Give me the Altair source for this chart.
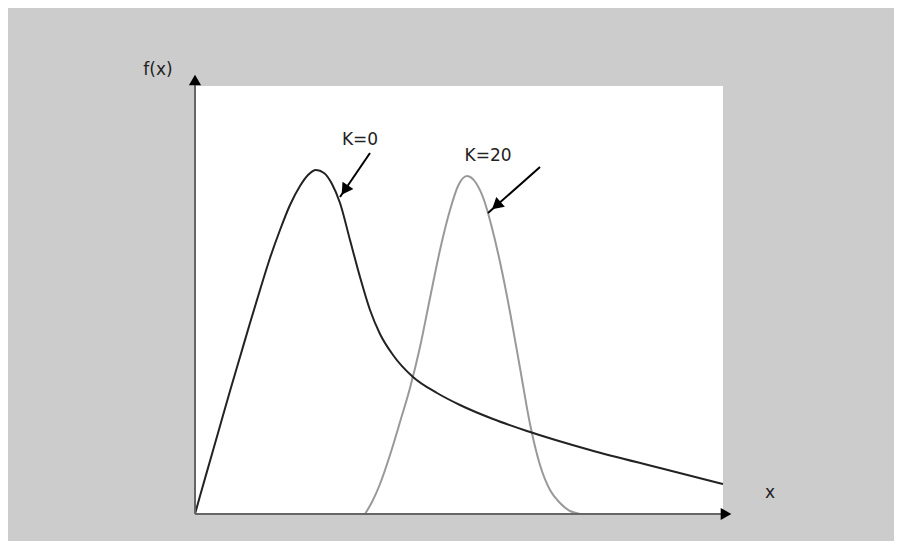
import altair as alt
import pandas as pd

# --- values (units: x 0..528, y 0..428 across the plot area) ---
k0_x = [0, 5, 15, 25, 35, 45, 55, 65, 75, 85, 95, 105, 113, 121, 129, 137, 145,
        155, 165, 175, 185, 198, 218, 242, 265, 298, 332, 395, 465, 528]
k0_y = [0, 18, 53, 88, 123, 157, 191, 224, 256, 284, 309, 328, 339, 344, 341, 330, 311,
        274, 237, 204, 180, 159, 137, 121, 109, 95, 83, 64, 46, 30]

k20_x = [170, 177, 185, 195, 205, 215, 225, 235, 245, 255, 263, 272, 281, 289, 297,
         305, 315, 325, 335, 345, 355, 365, 375, 385]
k20_y = [0, 12, 30, 59, 92, 126, 167, 216, 264, 304, 328, 338, 331, 314, 286,
         252, 202, 146, 90, 49, 24, 11, 3, 0]

labels = ["K=0", "K=20"]
label_x = [165, 293]
label_y = [374, 358]

# annotation arrows: start and tip
arrow_x1 = [175, 345]
arrow_y1 = [361, 347]
arrow_x2 = [145, 293]
arrow_y2 = [317, 301]
arrow_angle = [214, 229]

axis_titles = ["f(x)", "x"]
axis_title_x = [-37, 575]
axis_title_y = [444, 21]

XMAX, YMAX = 528, 428
W, H = 528, 428
xs = alt.Scale(domain=[0, XMAX], nice=False, zero=False)
ys = alt.Scale(domain=[0, YMAX], nice=False, zero=False)

df0 = pd.DataFrame({"x": k0_x, "y": k0_y})
df20 = pd.DataFrame({"x": k20_x, "y": k20_y})
dlab = pd.DataFrame({"x": label_x, "y": label_y, "t": labels})
darr = pd.DataFrame({"x": arrow_x1, "y": arrow_y1, "x2": arrow_x2, "y2": arrow_y2})
# arrow-head centroid a bit back from the tip
hx = [a + (b - a) * 0.84 for a, b in zip(arrow_x1, arrow_x2)]
hy = [a + (b - a) * 0.84 for a, b in zip(arrow_y1, arrow_y2)]
dhead = pd.DataFrame({"x": hx, "y": hy, "a": arrow_angle})
dtit = pd.DataFrame({"x": axis_title_x, "y": axis_title_y, "t": axis_titles})


def X(f="x"):
    return alt.X(f"{f}:Q", scale=xs, axis=None)


def Y(f="y"):
    return alt.Y(f"{f}:Q", scale=ys, axis=None)


axes = pd.DataFrame({"x": [0, 0], "y": [0, 0], "x2": [0, XMAX + 1], "y2": [YMAX + 1, 0]})
axis_rules = alt.Chart(axes).mark_rule(color="#666666", strokeWidth=2).encode(
    x=X(), y=Y(), x2="x2:Q", y2="y2:Q")
heads = pd.DataFrame({"x": [0, XMAX + 3], "y": [YMAX + 6, 0], "a": [0, 90]})
axis_heads = alt.Chart(heads).mark_point(shape="triangle-up", filled=True, color="black",
                                         opacity=1, size=150).encode(
    x=X(), y=Y(), angle=alt.Angle("a:Q", scale=None))

line0 = alt.Chart(df0).mark_line(color="#222222", strokeWidth=2, interpolate="monotone").encode(
    x=X(), y=Y(), order="x:Q")
line20 = alt.Chart(df20).mark_line(color="#999999", strokeWidth=2, interpolate="monotone").encode(
    x=X(), y=Y(), order="x:Q")

arr = alt.Chart(darr).mark_rule(color="black", strokeWidth=2).encode(
    x=X(), y=Y(), x2="x2:Q", y2="y2:Q")
arrh = alt.Chart(dhead).mark_point(shape="triangle-up", filled=True, color="black",
                                   opacity=1, size=170).encode(
    x=X(), y=Y(), angle=alt.Angle("a:Q", scale=None))

lab = alt.Chart(dlab).mark_text(font="DejaVu Sans", fontSize=17, color="#222222").encode(
    x=X(), y=Y(), text="t:N")
tit = alt.Chart(dtit).mark_text(font="DejaVu Sans", fontSize=17, color="#222222").encode(
    x=X(), y=Y(), text="t:N")

chart = alt.layer(line20, line0, axis_rules, axis_heads, arr, arrh, lab, tit).properties(
    width=W, height=H,
    autosize=alt.AutoSizeParams(type="none"),
    padding={"left": 187, "top": 78, "right": 171, "bottom": 27},
    background="#cccccc",
).configure_view(fill="white", strokeWidth=0)

chart.save("out.html", embed_options={"renderer": "svg", "actions": False})
